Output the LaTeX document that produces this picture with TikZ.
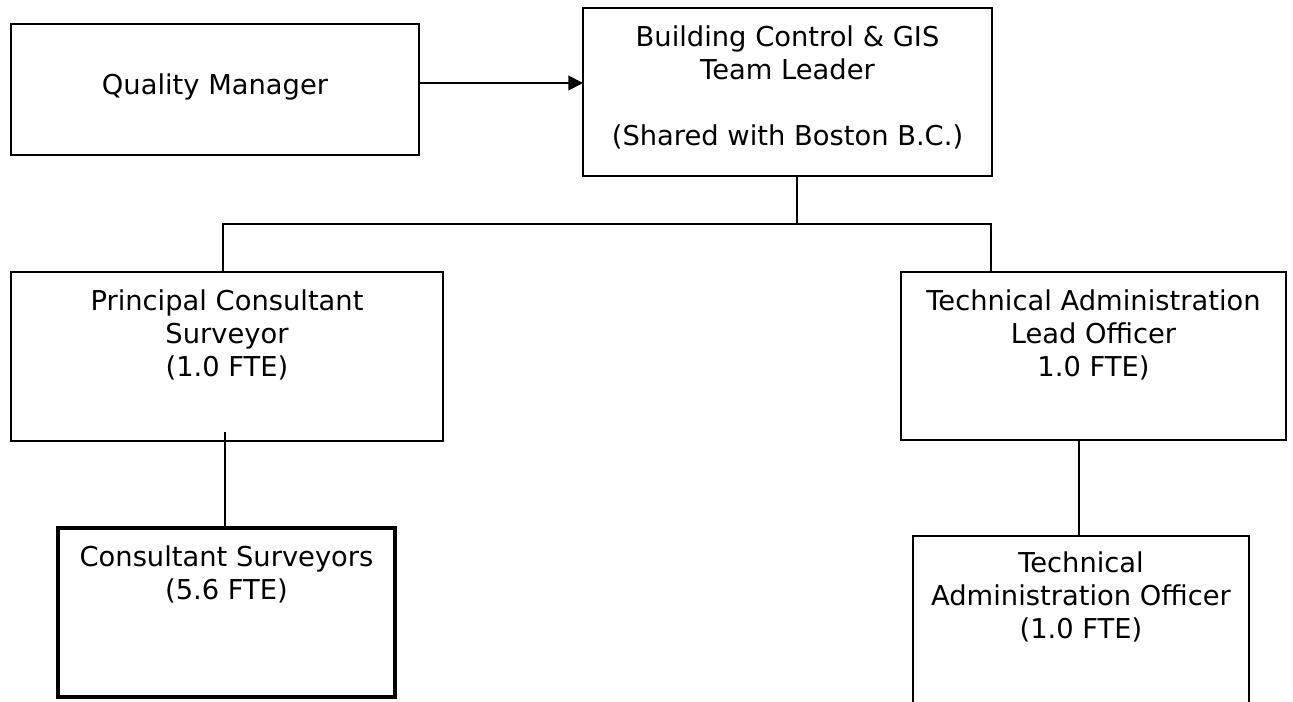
\documentclass[tikz,border=0pt]{standalone}
\usepackage{fontspec}
\setmainfont{DejaVu Sans}
\usetikzlibrary{arrows.meta,calc}
\newcommand\boxtxt[4]{\parbox[c][#2][t]{#1}{\centering\vspace*{#3}#4\par}}
\tikzset{
  orgbox/.style={draw=black, line width=1.5pt, inner sep=0pt, outer sep=0pt,
    font=\fontsize{20.5}{24.75}\selectfont},
  thickbox/.style={orgbox, line width=2.6pt},
  conn/.style={draw=black, line width=1.5pt},
  arr/.style={conn, -{Triangle[length=11pt,width=11pt]}},
}
\begin{document}
\begin{tikzpicture}[x=0.75pt,y=-0.75pt]
\useasboundingbox (0,0) rectangle (1293,702);
\fill[white] (0,0) rectangle (1293,702);
\node[orgbox] (qm) at (215,89.5)
  {\boxtxt{306pt}{98.25pt}{35.9pt}{\strut Quality Manager}};
\node[orgbox] (bc) at (787.5,92)
  {\boxtxt{306.75pt}{126pt}{11.9pt}{\strut Building Control \& GIS\\\strut Team Leader\\\strut\\\strut (Shared with Boston B.C.)}};
\node[orgbox] (pcs) at (227,356.5)
  {\boxtxt{324pt}{126.75pt}{11.2pt}{\strut Principal Consultant\\\strut Surveyor\\\strut (1.0 FTE)}};
\node[orgbox] (talo) at (1093.5,356)
  {\boxtxt{288.75pt}{126pt}{11.2pt}{\strut Technical Administration\\\strut Lead Officer\\\strut 1.0 FTE)}};
\node[thickbox] (cs) at (226.5,612.5)
  {\boxtxt{252.75pt}{126.75pt}{11.9pt}{\strut Consultant Surveyors\\\strut (5.6 FTE)}};
\node[orgbox] (tao) at (1081,648)
  {\boxtxt{252pt}{168pt}{9.7pt}{\strut Technical\\\strut Administration Officer\\\strut (1.0 FTE)}};
\coordinate (ay) at (0,83);
\coordinate (bus) at (0,224);
\coordinate (bcb) at ($(bc.south)+(9.5,0)$);
\coordinate (pcst) at ($(pcs.north)+(-4,0)$);
\coordinate (talot) at ($(talo.north)+(-102.5,0)$);
\draw[arr] (qm.east |- ay) -- (bc.west |- ay);
\draw[conn] (bcb) -- (bcb |- bus);
\draw[conn] (pcst) -- (pcst |- bus) -- (talot |- bus) -- (talot);
\draw[conn] ($(pcs.south)+(-2,-9)$) -- ($(cs.north)+(-1.5,0)$);
\draw[conn] ($(talo.south)+(-14.5,0)$) -- ($(tao.north)+(-2,0)$);
\end{tikzpicture}
\end{document}
